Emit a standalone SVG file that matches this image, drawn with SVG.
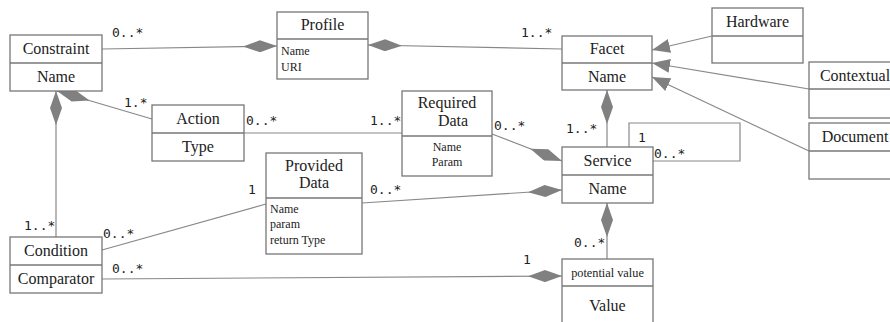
<svg xmlns="http://www.w3.org/2000/svg" width="890" height="322" viewBox="0 0 890 322">
<style>
.box{fill:#fff;stroke:#777;stroke-width:1.3}
.div{stroke:#777;stroke-width:1.3}
.cn{font-family:"Liberation Serif",serif;font-size:16px;fill:#222;text-anchor:middle}
.at{font-family:"Liberation Serif",serif;font-size:12px;fill:#222}
.atc{text-anchor:middle}
.m{font-family:"DejaVu Sans Mono",monospace;font-size:13px;fill:#222}
.ln{fill:none;stroke:#888;stroke-width:1.2}
.comp{marker-end:url(#dia)}
.gen{marker-end:url(#tri)}
</style>
<defs>
<marker id="dia" viewBox="-34 -6 34 12" refX="0" refY="0" markerWidth="34" markerHeight="12" markerUnits="userSpaceOnUse" orient="auto">
<path d="M0,0 L-17,-6 L-34,0 L-17,6 z" fill="#808080"/>
</marker>
<marker id="tri" viewBox="-18 -7 18 14" refX="0" refY="0" markerWidth="18" markerHeight="14" markerUnits="userSpaceOnUse" orient="auto">
<path d="M0,0 L-18,-7 L-18,7 z" fill="#808080"/>
</marker>
</defs>
<g id="connectors">
<path class="ln comp" d="M102,49 L277,46"/>
<path class="ln comp" d="M562,49 L368,45"/>
<path class="ln gen" d="M712,36 L652,50"/>
<path class="ln gen" d="M809,89 L652,63"/>
<path class="ln gen" d="M809,151 L652,77"/>
<path class="ln comp" d="M607,147 L607,90"/>
<path class="ln comp" d="M152,119 L57,91"/>
<path class="ln comp" d="M56,237 L56,91"/>
<path class="ln" d="M244,133 L402,133"/>
<path class="ln comp" d="M492,134 L562,161"/>
<path class="ln comp" d="M362,203 L562,190"/>
<path class="ln" d="M102,250 L266,204"/>
<path class="ln comp" d="M102,279 L562,276"/>
<path class="ln comp" d="M607,259 L607,203"/>
<path class="ln" d="M629,147 L629,123 L740,123 L740,161 L653,161"/>
<text class="m" x="112" y="37">0..*</text>
<text class="m" x="521" y="37">1..*</text>
<text class="m" x="124" y="107">1.*</text>
<text class="m" x="246" y="125">0..*</text>
<text class="m" x="370" y="125">1..*</text>
<text class="m" x="494" y="130">0..*</text>
<text class="m" x="566" y="133">1..*</text>
<text class="m" x="638" y="142">1</text>
<text class="m" x="654" y="158">0..*</text>
<text class="m" x="248" y="194">1</text>
<text class="m" x="370" y="194">0..*</text>
<text class="m" x="24" y="230">1..*</text>
<text class="m" x="103" y="238">0..*</text>
<text class="m" x="112" y="273">0..*</text>
<text class="m" x="523" y="264">1</text>
<text class="m" x="574" y="247">0..*</text>
</g>
<g id="constraint">
<rect class="box" x="10" y="35" width="92" height="56"/>
<line class="div" x1="10" y1="63" x2="102" y2="63"/>
<text class="cn" x="56" y="54">Constraint</text>
<text class="cn" x="56" y="82">Name</text>
</g>
<g id="profile">
<rect class="box" x="277" y="12" width="91" height="67"/>
<line class="div" x1="277" y1="39" x2="368" y2="39"/>
<text class="cn" x="322.5" y="30">Profile</text>
<text class="at" x="281" y="55">Name</text>
<text class="at" x="281" y="71">URI</text>
</g>
<g id="facet">
<rect class="box" x="562" y="36" width="90" height="54"/>
<line class="div" x1="562" y1="63" x2="652" y2="63"/>
<text class="cn" x="607" y="54">Facet</text>
<text class="cn" x="607" y="82">Name</text>
</g>
<g id="hardware">
<rect class="box" x="712" y="8" width="91" height="55"/>
<line class="div" x1="712" y1="36" x2="803" y2="36"/>
<text class="cn" x="757.5" y="27">Hardware</text>
</g>
<g id="contextual">
<rect class="box" x="809" y="62" width="95" height="56"/>
<line class="div" x1="809" y1="89" x2="904" y2="89"/>
<text class="cn" x="855" y="81">Contextual</text>
</g>
<g id="document">
<rect class="box" x="809" y="123" width="95" height="56"/>
<line class="div" x1="809" y1="151" x2="904" y2="151"/>
<text class="cn" x="855" y="142">Document</text>
</g>
<g id="action">
<rect class="box" x="152" y="105" width="92" height="56"/>
<line class="div" x1="152" y1="133" x2="244" y2="133"/>
<text class="cn" x="198" y="124">Action</text>
<text class="cn" x="198" y="152">Type</text>
</g>
<g id="required-data">
<rect class="box" x="402" y="91" width="90" height="85"/>
<line class="div" x1="402" y1="136" x2="492" y2="136"/>
<text class="cn" x="447" y="108">Required</text>
<text class="cn" x="453" y="126">Data</text>
<text class="at atc" x="447" y="151">Name</text>
<text class="at atc" x="447" y="166">Param</text>
</g>
<g id="provided-data">
<rect class="box" x="266" y="153" width="96" height="101"/>
<line class="div" x1="266" y1="198" x2="362" y2="198"/>
<text class="cn" x="314" y="171">Provided</text>
<text class="cn" x="314" y="188">Data</text>
<text class="at" x="270" y="213">Name</text>
<text class="at" x="270" y="228">param</text>
<text class="at" x="270" y="244">return Type</text>
</g>
<g id="service">
<rect class="box" x="562" y="147" width="91" height="56"/>
<line class="div" x1="562" y1="175" x2="653" y2="175"/>
<text class="cn" x="607.5" y="166">Service</text>
<text class="cn" x="607.5" y="194">Name</text>
</g>
<g id="condition">
<rect class="box" x="10" y="237" width="92" height="56"/>
<line class="div" x1="10" y1="265" x2="102" y2="265"/>
<text class="cn" x="56" y="256">Condition</text>
<text class="cn" x="56" y="284">Comparator</text>
</g>
<g id="potential-value">
<rect class="box" x="562" y="259" width="91" height="66"/>
<line class="div" x1="562" y1="286" x2="653" y2="286"/>
<text class="at atc" x="607.5" y="277" style="font-size:12.3px">potential value</text>
<text class="cn" x="607.5" y="311">Value</text>
</g>
</svg>
